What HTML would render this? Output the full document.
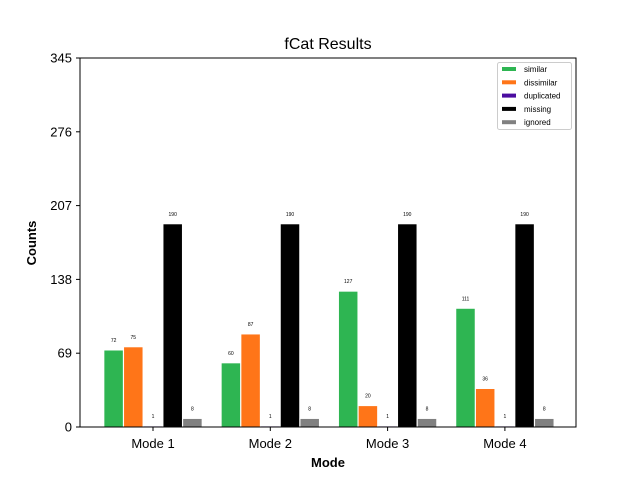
<!DOCTYPE html>
<html><head><meta charset="utf-8"><style>
body{margin:0;background:#fff;}
svg text{font-family:"Liberation Sans","DejaVu Sans",sans-serif;}
</style></head><body>
<svg id="chart" width="640" height="480" xmlns="http://www.w3.org/2000/svg">
<rect width="640" height="480" fill="#fff"/>
<text x="328" y="49" text-anchor="middle" font-size="16">fCat Results</text>
<g id="bars"></g>
<g id="axes"></g>
</svg>
<script>
const categories = ["Mode 1","Mode 2","Mode 3","Mode 4"];
const seriesNames = ["similar","dissimilar","duplicated","missing","ignored"];
const similar = [72,60,127,111];
const dissimilar = [75,87,20,36];
const duplicated = [1,1,1,1];
const missing = [190,190,190,190];
const ignored = [8,8,8,8];
const yTicks = [0,69,138,207,276,345];
const yMax = 345;

const series=[similar,dissimilar,duplicated,missing,ignored];
const colors=["#2eb552","#ff7518","#4b0ca0","#000000","#808080"];
const NS="http://www.w3.org/2000/svg";
const L=80,R=576,T=58,B=427;
function y(v){return B-v*(B-T)/yMax;}
function xc(i){return 153+i*117.3;}
const step=19.7,bw=19.5;
function mk(tag,attrs,parent){const e=document.createElementNS(NS,tag);for(const k in attrs)e.setAttribute(k,attrs[k]);parent.appendChild(e);return e;}
const bars=document.getElementById('bars'),axes=document.getElementById('axes');
categories.forEach((c,i)=>{
  series.forEach((s,j)=>{
    const cx=xc(i)+(j-2)*step;
    const r=mk('rect',{x:cx-bw/2,y:y(s[i]),width:bw,height:B-y(s[i]),fill:colors[j],stroke:'#fff','stroke-width':1},bars);
    
    
    const t=mk('text',{x:cx,y:y(s[i])-8,'text-anchor':'middle','font-size':5},bars);
    t.textContent=s[i];
    
    
  });
  mk('line',{x1:xc(i),x2:xc(i),y1:B,y2:B+4,stroke:'#000'},axes);
  const t=mk('text',{x:xc(i),y:B+21,'text-anchor':'middle','font-size':13},axes);
  t.textContent=c;
  
  
});
yTicks.forEach(v=>{
  mk('line',{x1:L-4,x2:L,y1:y(v),y2:y(v),stroke:'#000'},axes);
  const t=mk('text',{x:L-8,y:y(v)+4.5,'text-anchor':'end','font-size':13},axes);
  t.textContent=v;
  
  
});
const f=mk('rect',{x:L,y:T,width:R-L,height:B-T,fill:'none',stroke:'#000','stroke-width':1},axes);


const xt=mk('text',{x:328,y:467,'text-anchor':'middle','font-size':13,'font-weight':'bold'},axes);
xt.textContent='Mode';


const yt=mk('text',{x:36,y:243,'text-anchor':'middle','font-size':13,'font-weight':'bold',transform:'rotate(-90 36 243)'},axes);
yt.textContent='Counts';


const lg=mk('g',{},axes);


mk('rect',{x:497.5,y:62.5,width:74,height:67,rx:2,fill:'#fff',stroke:'#ccc'},lg);
seriesNames.forEach((n,j)=>{
  const yy=69+j*13.3;
  mk('rect',{x:502,y:yy-2,width:14,height:4,fill:colors[j]},lg);
  const t=mk('text',{x:524,y:yy+3,'font-size':8},lg);
  t.textContent=n;
  
  
});
</script>
</body></html>
